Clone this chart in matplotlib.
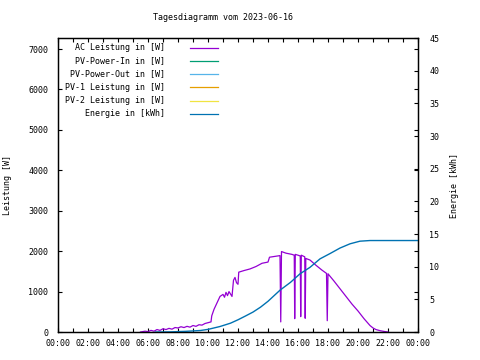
import matplotlib
matplotlib.use("Agg")
import matplotlib.pyplot as plt
from matplotlib.lines import Line2D

# ---- data (time in hours of day) ----
title = "Tagesdiagramm vom 2023-06-16"

ac_time = [5.5, 5.8, 6.0, 6.2, 6.4, 6.6, 6.8, 7.0, 7.2, 7.4, 7.6, 7.8, 8.0, 8.2, 8.4,
           8.6, 8.8, 9.0, 9.2, 9.4, 9.6, 9.8, 10.0, 10.2, 10.25, 10.4, 10.6, 10.8,
           11.0, 11.1, 11.2, 11.3, 11.4, 11.5, 11.6, 11.7, 11.8, 11.9, 12.0, 12.05,
           12.4, 12.8, 13.2, 13.6, 14.0, 14.1, 14.8, 14.85, 14.9, 15.2, 15.6, 15.75,
           15.78, 15.82, 16.0, 16.15, 16.18, 16.22, 16.45, 16.48, 16.52, 16.8, 17.2,
           17.6, 17.9, 17.95, 18.0, 18.4, 18.8, 19.2, 19.6, 20.0, 20.4, 20.8, 21.0,
           21.2, 21.5, 21.8, 22.0]
ac_power = [0, 20, 10, 40, 20, 60, 40, 80, 60, 90, 70, 110, 100, 130, 110,
            140, 120, 160, 140, 180, 170, 210, 230, 250, 400, 560, 720, 880,
            930, 860, 980, 900, 1000, 940, 880, 1280, 1350, 1220, 1180, 1480,
            1520, 1560, 1620, 1700, 1730, 1850, 1890, 250, 1990, 1950, 1920, 1900,
            330, 1920, 1900, 1880, 380, 1900, 1860, 340, 1820, 1780, 1650,
            1530, 1450, 280, 1440, 1260, 1070, 880, 690, 520, 330, 160, 100,
            60, 30, 10, 0]

pv_in_time, pv_in_power = [], []
pv_out_time, pv_out_power = [], []
pv1_time, pv1_power = [], []
pv2_time, pv2_power = [], []

energy_time = [6.5, 7.5, 8.5, 9.5, 10.0, 10.8, 11.5, 12.0, 12.5, 13.0, 13.5, 14.0,
               14.8, 15.5, 16.13, 16.8, 17.47, 18.13, 18.8, 19.47, 20.13, 20.8, 24.0]
energy_kwh = [0.0, 0.02, 0.1, 0.23, 0.4, 0.84, 1.35, 1.87, 2.45, 3.05, 3.8, 4.7,
              6.4, 7.6, 8.9, 9.9, 11.2, 12.0, 12.85, 13.5, 13.9, 14.0, 14.0]

x_ticks = list(range(0, 25, 2))
x_tick_labels = ["00:00", "02:00", "04:00", "06:00", "08:00", "10:00", "12:00",
                 "14:00", "16:00", "18:00", "20:00", "22:00", "00:00"]
y_ticks = [0, 1000, 2000, 3000, 4000, 5000, 6000, 7000]
y2_ticks = [0, 5, 10, 15, 20, 25, 30, 35, 40, 45]

series = [
    ("AC Leistung in [W]", ac_time, ac_power, "#9400d3"),
    ("PV-Power-In in [W]", pv_in_time, pv_in_power, "#009e73"),
    ("PV-Power-Out in [W]", pv_out_time, pv_out_power, "#56b4e9"),
    ("PV-1 Leistung in [W]", pv1_time, pv1_power, "#e69f00"),
    ("PV-2 Leistung in [W]", pv2_time, pv2_power, "#f0e442"),
]
energy_label = "Energie in [kWh]"
energy_color = "#0072b2"

plt.rcParams["font.family"] = ["DejaVu Sans Mono"]
plt.rcParams["font.size"] = 6

W, H = 480, 360
fig = plt.figure(figsize=(W / 100, H / 100), dpi=100)
ax = fig.add_axes([58 / W, 1 - 332 / H, 360 / W, 294 / H])
ax2 = ax.twinx()

for name, t, p, c in series:
    ax.plot(t, p, color=c, lw=0.9)
ax2.plot(energy_time, energy_kwh, color=energy_color, lw=1.0)

ax.set_xlim(0, 24)
ax.set_ylim(0, 7273)
ax2.set_ylim(0, 45)

ax.set_xticks(x_ticks)
ax.set_xticklabels(x_tick_labels)
ax.set_xticks(range(0, 25), minor=True)
ax.set_yticks(y_ticks)
ax2.set_yticks(y2_ticks)

ax.tick_params(axis="x", which="both", direction="in", top=True, length=3, width=0.8, pad=5)
ax.tick_params(axis="y", direction="in", right=True, length=3, width=0.8, pad=7)
ax2.tick_params(axis="y", direction="in", length=3, width=0.8, pad=8)
for a in (ax, ax2):
    for s in a.spines.values():
        s.set_linewidth(0.9)

ax.set_ylabel("Leistung [W]")
ax2.set_ylabel("Energie [kWh]")
ax.yaxis.set_label_coords(-46 / 360, 0.5)
ax2.yaxis.set_label_coords(1 + 32 / 360, 0.5)

fig.text(223 / W, 1 - 18 / H, title, ha="center", va="center")

# gnuplot-style key: right-aligned text, line sample to the right
labels = [s[0] for s in series] + [energy_label]
colors = [s[3] for s in series] + [energy_color]
for i, (lab, col) in enumerate(zip(labels, colors)):
    yy = 1 - (47.5 + i * 13.3) / H
    fig.text(165 / W, yy, lab, ha="right", va="center")
    fig.add_artist(Line2D([190 / W, 218 / W], [yy, yy], color=col, lw=0.9,
                          transform=fig.transFigure))

fig.savefig("out.png", dpi=100)
